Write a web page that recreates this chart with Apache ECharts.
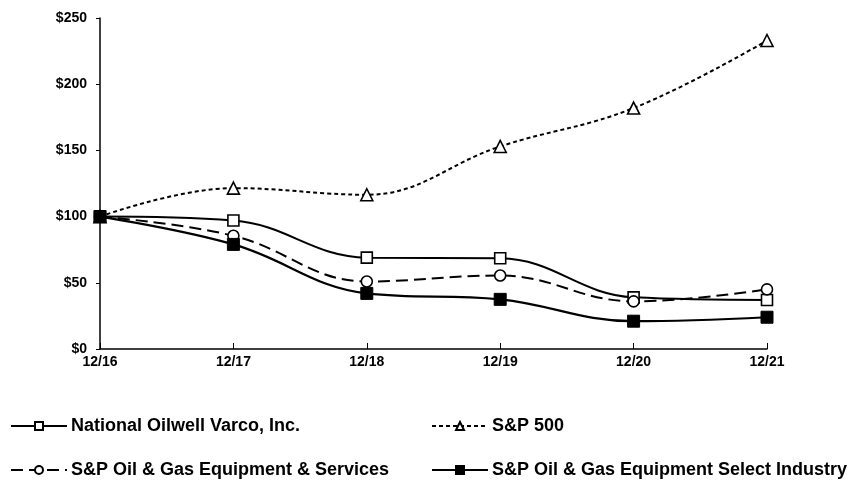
<!DOCTYPE html>
<html><head><meta charset="utf-8">
<script src="https://cdn.jsdelivr.net/npm/echarts@6/dist/echarts.min.js"></script>
<style>html,body{margin:0;padding:0;background:#fff}#c{width:852px;height:482px}</style>
</head><body><div id="c"></div>
<script>
var categories = ['12/16','12/17','12/18','12/19','12/20','12/21'];
var nov = [100, 97, 69, 68.5, 39, 37];
var sp500 = [100, 121.5, 116.5, 153, 182, 233];
var ogServices = [100, 85.5, 51, 55.5, 36, 45];
var ogSelect = [100, 79, 42, 37.5, 21, 24];
var yTicks = [0, 50, 100, 150, 200, 250];

var chart = echarts.init(document.getElementById('c'));
var font = {fontFamily: 'Liberation Sans, Arial', fontWeight: 'bold', color: '#000'};
function legendAt(name, left, top) {
  return {data: [name], left: left, top: top, itemWidth: 56, itemHeight: 10, itemGap: 5,
    textStyle: Object.assign({fontSize: 18, padding: [0, 0, 0, -1]}, font), padding: 0};
}
chart.setOption({
  animation: false,
  backgroundColor: '#fff',
  grid: {left: 100, right: 85, top: 18, bottom: 133},
  legend: [
    legendAt('National Oilwell Varco, Inc.', 10, 417),
    legendAt('S&P 500', 431, 417),
    legendAt('S&P Oil & Gas Equipment & Services', 10, 461),
    legendAt('S&P Oil & Gas Equipment Select Industry', 431, 461)
  ],
  xAxis: {
    type: 'category', data: categories, boundaryGap: false,
    axisLine: {lineStyle: {color: '#000', width: 1.5}},
    axisTick: {inside: true, length: 6, lineStyle: {color: '#000'}},
    axisLabel: Object.assign({fontSize: 14, margin: 6}, font)
  },
  yAxis: {
    type: 'value', min: yTicks[0], max: yTicks[yTicks.length - 1], interval: 50,
    splitLine: {show: false},
    axisLine: {show: true, lineStyle: {color: '#000', width: 1.5}},
    axisTick: {show: true, length: 4, lineStyle: {color: '#000'}},
    axisLabel: Object.assign({fontSize: 14, margin: 13, formatter: function(v){return '$' + v;}}, font)
  },
  series: [
    {name: 'National Oilwell Varco, Inc.', type: 'line', data: nov, smooth: 0.4,
     symbol: 'rect', symbolSize: 11, z: 3,
     itemStyle: {color: '#fff', borderColor: '#000', borderWidth: 1.6},
     lineStyle: {color: '#000', width: 2}},
    {name: 'S&P 500', type: 'line', data: sp500, smooth: 0.4,
     symbol: 'triangle', symbolSize: 12, z: 3,
     itemStyle: {color: '#fff', borderColor: '#000', borderWidth: 1.6},
     lineStyle: {color: '#000', width: 2, type: [4, 3]}},
    {name: 'S&P Oil & Gas Equipment & Services', type: 'line', data: ogServices, smooth: 0.4,
     symbol: 'circle', symbolSize: 11, z: 3,
     itemStyle: {color: '#fff', borderColor: '#000', borderWidth: 1.6},
     lineStyle: {color: '#000', width: 2, type: [12, 6]}},
    {name: 'S&P Oil & Gas Equipment Select Industry', type: 'line', data: ogSelect, smooth: 0.4,
     symbol: 'rect', symbolSize: 12, z: 4,
     itemStyle: {color: '#000', borderColor: '#000', borderWidth: 1},
     lineStyle: {color: '#000', width: 2.2}}
  ]
});
</script></body></html>
